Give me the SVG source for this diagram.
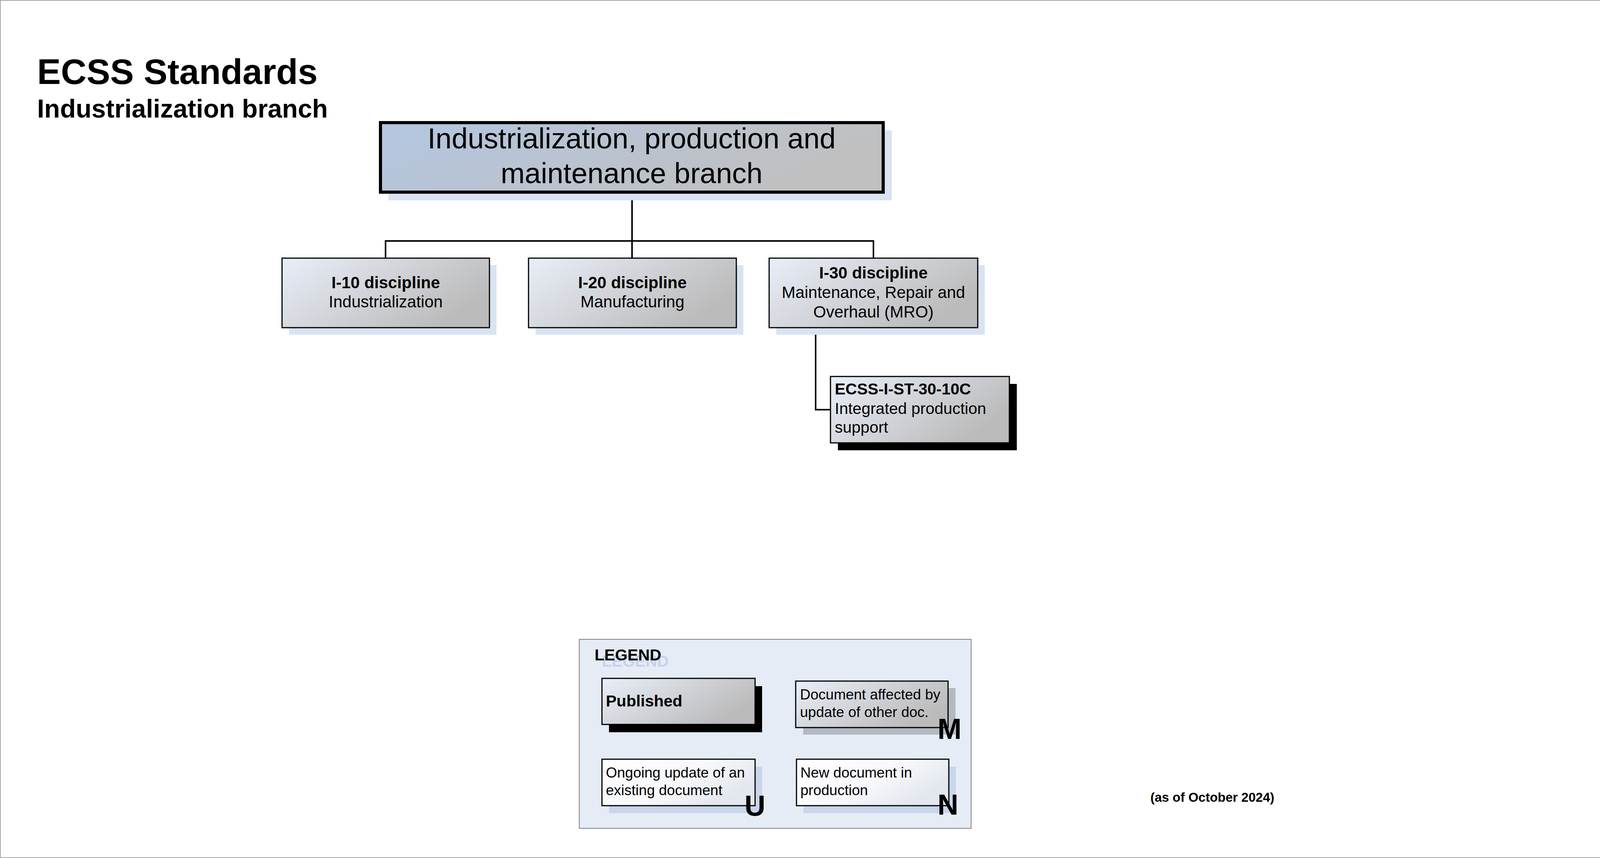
<svg xmlns="http://www.w3.org/2000/svg" width="4319" height="2197" viewBox="0 0 4319 2197">
<defs>
<linearGradient id="gMain" x1="0" y1="0" x2="1" y2="0.3">
<stop offset="0" stop-color="#b3c6e1"/>
<stop offset="1" stop-color="#c0c0c0"/>
</linearGradient>
<linearGradient id="gBox" x1="0" y1="0" x2="1" y2="0.5">
<stop offset="0" stop-color="#e9eef8"/>
<stop offset="1" stop-color="#bbbbbb"/>
</linearGradient>
<linearGradient id="gWhite" x1="0" y1="0" x2="1" y2="0.5">
<stop offset="0" stop-color="#ffffff"/>
<stop offset="0.6" stop-color="#f7f8fb"/>
<stop offset="1" stop-color="#e2e6ee"/>
</linearGradient>
<style>
text{font-family:"Liberation Sans",Arial,sans-serif;fill:#000}
.b{font-weight:bold}
.box{fill:url(#gBox);stroke:#000;stroke-width:3}
.wbox{fill:url(#gWhite);stroke:#000;stroke-width:3}
.sh{fill:#d9e3f1}
.shb{fill:#000}
.shg{fill:#b4b8c0}
.shl{fill:#c8d5ea}
.d{font-size:42px;text-anchor:middle}
.e{font-size:41px}
.l{font-size:37px}
.big{font-size:74px;font-weight:bold}
.conn{fill:none;stroke:#000;stroke-width:4}
</style>
</defs>
<rect x="1" y="1" width="4317" height="2195" fill="#ffffff" stroke="#a6a6a6" stroke-width="2"/>

<g id="title">
<text class="b" x="95" y="215" font-size="91">ECSS Standards</text>
<text class="b" x="95" y="301" font-size="66">Industrialization branch</text>
</g>

<g id="connectors">
<path class="conn" d="M1618 495 V661"/>
<path class="conn" d="M987 617 H2236"/>
<path class="conn" d="M987 615 V661"/>
<path class="conn" d="M2236 615 V661"/>
<path class="conn" d="M2088 839 V1049 H2126"/>
</g>

<g id="main">
<rect class="sh" x="994" y="334" width="1289" height="179"/>
<rect x="974" y="314" width="1287" height="178" fill="url(#gMain)" stroke="#000" stroke-width="8"/>
<text x="1617" y="380" font-size="74" text-anchor="middle">Industrialization, production and</text>
<text x="1617" y="469" font-size="74" text-anchor="middle">maintenance branch</text>
</g>

<g id="i10">
<rect class="sh" x="740" y="679" width="531" height="178"/>
<rect class="box" x="722" y="661" width="531" height="178"/>
<text class="d b" x="987.5" y="738">I-10 discipline</text>
<text class="d" x="987.5" y="787">Industrialization</text>
</g>

<g id="i20">
<rect class="sh" x="1371" y="679" width="532" height="178"/>
<rect class="box" x="1353" y="661" width="532" height="178"/>
<text class="d b" x="1619" y="738">I-20 discipline</text>
<text class="d" x="1619" y="787">Manufacturing</text>
</g>

<g id="i30">
<rect class="sh" x="1987" y="679" width="534" height="178"/>
<rect class="box" x="1969" y="661" width="534" height="178"/>
<text class="d b" x="2236" y="713">I-30 discipline</text>
<text class="d" x="2236" y="763">Maintenance, Repair and</text>
<text class="d" x="2236" y="813">Overhaul (MRO)</text>
</g>

<g id="ecss-i-st-30-10c">
<rect class="shb" x="2145" y="983" width="458" height="170"/>
<rect class="box" x="2126" y="964" width="458" height="170"/>
<text class="e b" x="2137" y="1010">ECSS-I-ST-30-10C</text>
<text class="e" x="2137" y="1060">Integrated production</text>
<text class="e" x="2137" y="1108">support</text>
</g>

<g id="legend">
<rect x="1483" y="1637" width="1003" height="484" fill="#e6ecf6" stroke="#808080" stroke-width="2"/>
<text class="b" x="1541" y="1707" font-size="41" style="fill:#c5d3e9">LEGEND</text>
<text class="b" x="1522" y="1691" font-size="41">LEGEND</text>

<g id="legend-published">
<rect class="shb" x="1559" y="1757" width="392" height="118"/>
<rect class="box" x="1541" y="1737" width="392" height="118"/>
<text class="e b" x="1551" y="1809">Published</text>
</g>

<g id="legend-affected">
<rect class="shg" x="2056" y="1762" width="390" height="119"/>
<rect class="box" x="2037" y="1744" width="390" height="119"/>
<text class="l" x="2048" y="1791">Document affected by</text>
<text class="l" x="2048" y="1836">update of other doc.</text>
<text class="big" x="2400" y="1892">M</text>
</g>

<g id="legend-ongoing">
<rect class="shl" x="1559" y="1963" width="392" height="119"/>
<rect class="wbox" x="1541" y="1944" width="392" height="119"/>
<text class="l" x="1551" y="1991">Ongoing update of an</text>
<text class="l" x="1551" y="2036">existing document</text>
<text class="big" x="1906" y="2089">U</text>
</g>

<g id="legend-new">
<rect class="shl" x="2057" y="1963" width="390" height="119"/>
<rect class="wbox" x="2039" y="1944" width="390" height="119"/>
<text class="l" x="2049" y="1991">New document in</text>
<text class="l" x="2049" y="2036">production</text>
<text class="big" x="2400" y="2086">N</text>
</g>
</g>

<g id="date">
<text class="b" x="2945" y="2053" font-size="33">(as of October 2024)</text>
</g>
</svg>
